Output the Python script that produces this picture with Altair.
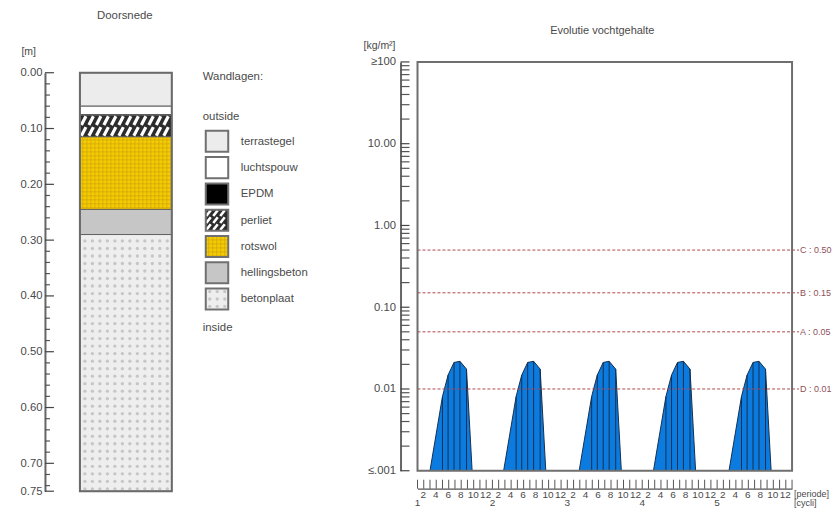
import altair as alt
import pandas as pd
import numpy as np

FONT = "Liberation Sans"
TXT = "#4a4a4a"
AXC = "#666666"

# ---- wall build-up
layer_names = ["terrastegel", "luchtspouw", "EPDM", "perliet", "rotswol", "hellingsbeton", "betonplaat"]
layer_top = [0.0, 0.06, 0.075, 0.076, 0.115, 0.245, 0.29]
layer_bottom = [0.06, 0.075, 0.076, 0.115, 0.245, 0.29, 0.75]
layer_fill = ["#ececec", "#ffffff", "#000000", "#2c2c2c", "#f0cf00", "#c6c6c6", "#eeeeee"]
depth_ticks = [0.0, 0.1, 0.2, 0.3, 0.4, 0.5, 0.6, 0.7, 0.75]
depth_minor = [round(i * 0.02, 2) for i in range(38) if i % 5 != 0]

# ---- moisture evolution
hump_months = [2, 4, 4.9, 5.85, 6.8, 7.85, 8.75]
hump_values = [0.001, 0.0081, 0.0148, 0.0211, 0.0218, 0.0175, 0.001]
cycle_start = [0, 11.8, 23.9, 35.8, 47.9]
limit_names = ["C : 0.50", "B : 0.15", "A : 0.05", "D : 0.01"]
limit_values = [0.5, 0.15, 0.05, 0.01]
moist_ticks = [0.001, 0.01, 0.1, 1, 10, 100]
moist_minor = [m * d for d in [0.001, 0.01, 0.1, 1, 10] for m in range(2, 10)]

HEIGHT_L = 484
HEIGHT_R = 481
COL_X0, COL_X1 = 35, 127


def txt(df, size=11.4, color=TXT, align="left", **enc):
    return alt.Chart(df).mark_text(font=FONT, fontSize=size, color=color, align=align, baseline="middle").encode(text="t:N", **enc)


# ================= left: section
DY = alt.Y("y:Q", title=None,
           scale=alt.Scale(domain=[0, 0.75], range=[64.5, 483.5], nice=False, zero=False),
           axis=alt.Axis(values=depth_ticks, format=".2f", ticks=False, grid=False, domainColor=AXC, domainWidth=2,
                         labelFont=FONT, labelFontSize=11.3, labelColor=TXT, labelPadding=3, title=None,
                         labelOverlap=False))
DY2 = alt.Y2("y2:Q")
DX_S = alt.Scale(domain=[0, 155], range=[0, 155], nice=False, zero=False)
DX = alt.X("x:Q", scale=DX_S, axis=None)
DX2 = alt.X2("x2:Q")

rects = pd.DataFrame({"x": COL_X0, "x2": COL_X1, "y": layer_top, "y2": layer_bottom, "f": layer_fill})
rect_l = alt.Chart(rects).mark_rect(stroke="#5f5f5f", strokeWidth=1).encode(
    x=DX, x2=DX2, y=DY, y2=DY2, fill=alt.Fill("f:N", scale=None))

PX = 0.75 / 419.0


def hatch(x0, x1, y0, y1, rows, pitch):
    out = []
    h = (y1 - y0) / rows
    for r in range(rows):
        for x in np.arange(x0 + 1.5, x1 - 5, pitch):
            out.append({"x": float(x), "x2": float(x) + 4.5, "y": y0 + (r + 1) * h - 0.002, "y2": y0 + r * h + 0.002})
    return pd.DataFrame(out)


per = hatch(COL_X0, COL_X1, 0.076, 0.115, 2, 7.5)
hatch_l = alt.Chart(per).mark_rule(color="#ffffff", strokeWidth=3.2).encode(x=DX, x2=DX2, y=DY, y2=DY2)

gx = [float(v) for v in np.arange(COL_X0 + 3, COL_X1, 4)]
gy = [float(v) for v in np.arange(0.115 + 3 * PX, 0.245, 4 * PX)]
gv = pd.DataFrame({"x": gx, "y": 0.115, "y2": 0.245})
gh = pd.DataFrame({"y": gy, "x": COL_X0, "x2": COL_X1})
gridv_l = alt.Chart(gv).mark_rule(color="#d8a010", strokeWidth=1, opacity=0.75).encode(x=DX, y=DY, y2=DY2)
gridh_l = alt.Chart(gh).mark_rule(color="#d8a010", strokeWidth=1, opacity=0.75).encode(x=DX, x2=DX2, y=DY)

dots = pd.DataFrame([{"x": float(x), "y": float(y)}
                     for x in np.arange(COL_X0 + 5, COL_X1 + 1, 7.5)
                     for y in np.arange(0.3015, 0.749, 7.52 * PX)])
dots_l = alt.Chart(dots).mark_circle(size=11, color="#c6c6c6", opacity=1).encode(x=DX, y=DY)

frame_l = alt.Chart(pd.DataFrame({"x": [COL_X0], "x2": [COL_X1], "y": [0.0], "y2": [0.75]})).mark_rect(
    fill=None, stroke="#6a6a6a", strokeWidth=2).encode(x=DX, x2=DX2, y=DY, y2=DY2)

maj_l = alt.Chart(pd.DataFrame({"y": depth_ticks})).mark_rule(color="#444444", strokeWidth=1.2).encode(
    x=alt.value(0), x2=alt.value(9), y=DY)
min_l = alt.Chart(pd.DataFrame({"y": depth_minor})).mark_rule(color="#555555", strokeWidth=1.2).encode(
    x=alt.value(0), x2=alt.value(5), y=DY)
t1 = txt(pd.DataFrame({"t": ["Doorsnede"]}), align="center", size=11.4, x=alt.value(80), y=alt.value(8))
t2 = txt(pd.DataFrame({"t": ["[m]"]}), align="right", size=10.5, x=alt.value(-9), y=alt.value(44))

left = alt.layer(rect_l, hatch_l, gridv_l, gridh_l, dots_l, frame_l, maj_l, min_l, t1, t2).properties(
    width=155, height=HEIGHT_L)

# ================= legend
SW0, SW1 = 6, 28.5
LX = alt.X("x:Q", scale=alt.Scale(domain=[0, 200], range=[0, 200], nice=False, zero=False), axis=None)
LY = alt.Y("y:Q", title=None, scale=alt.Scale(domain=[-3, 9], range=[43.8, 359.4], nice=False, zero=False), axis=None)
LX2, LY2 = alt.X2("x2:Q"), alt.Y2("y2:Q")

swatch = pd.DataFrame({"x": SW0, "x2": SW1, "y": list(range(7)), "y2": [i + 0.8 for i in range(7)], "f": layer_fill})
sw_rect = alt.Chart(swatch).mark_rect().encode(x=LX, x2=LX2, y=LY, y2=LY2, fill=alt.Fill("f:N", scale=None))

sw_hatch = []
for r in [0, 1, 2]:
    for x in np.arange(SW0 + 0.5, SW1 - 4, 7):
        sw_hatch.append({"x": float(x), "x2": float(x) + 4.5, "y": 3 + r * 0.267 + 0.24, "y2": 3 + r * 0.267 + 0.02})
sw_h = alt.Chart(pd.DataFrame(sw_hatch)).mark_rule(color="#ffffff", strokeWidth=2.6).encode(x=LX, x2=LX2, y=LY, y2=LY2)
sw_gv = alt.Chart(pd.DataFrame({"x": [float(v) for v in np.arange(SW0 + 3, SW1, 4)], "y": 4.0, "y2": 4.8})).mark_rule(
    color="#d8a010", opacity=0.75).encode(x=LX, y=LY, y2=LY2)
sw_gh = alt.Chart(pd.DataFrame({"y": [4 + k * 0.152 for k in range(1, 6)], "x": SW0, "x2": SW1})).mark_rule(
    color="#d8a010", opacity=0.75).encode(x=LX, x2=LX2, y=LY)
sw_d = alt.Chart(pd.DataFrame([{"x": SW0 + 4 + 7.5 * i, "y": 6.12 + 0.28 * j} for i in range(3) for j in range(3)])).mark_circle(
    size=11, color="#c6c6c6", opacity=1).encode(x=LX, y=LY)
sw_frame = alt.Chart(swatch).mark_rect(fill=None, stroke="#707070", strokeWidth=2).encode(x=LX, x2=LX2, y=LY, y2=LY2)

leg_txt = txt(pd.DataFrame({"t": layer_names, "x": 41, "y": [i + 0.42 for i in range(7)]}), x=LX, y=LY)
head_txt = txt(pd.DataFrame({"t": ["Wandlagen:", "outside", "inside"], "x": 3, "y": [-2.04, -0.52, 7.52]}), x=LX, y=LY)

legend_p = alt.layer(sw_rect, sw_h, sw_gv, sw_gh, sw_d, sw_frame, leg_txt, head_txt).properties(width=200.7, height=HEIGHT_L)

# ================= right: moisture
MX = alt.X("x:Q", title=None,
           scale=alt.Scale(domain=[0, 60], range=[17, 392], nice=False, zero=False),
           axis=alt.Axis(values=list(range(1, 60, 2)), labelExpr="datum.value % 12 + 1", ticks=False, grid=False,
                         domainColor="#555555", domainWidth=1.2, labelFont=FONT, labelFontSize=10, labelColor=TXT,
                         labelPadding=1, labelOffset=-1, labelOverlap=False, labelFlush=False, title=None))
LABELS = "datum.value >= 100 ? '≥100' : datum.value <= 0.001 ? '≤.001' : format(datum.value, '.2f')"
M_SCALE = alt.Scale(type="log", domain=[0.001, 100], range=[463, 53.7], nice=False)
M_AXIS = alt.Axis(values=moist_ticks, labelExpr=LABELS, ticks=False, grid=False, domainColor=AXC, domainWidth=2,
                  labelFont=FONT, labelFontSize=11.3, labelColor=TXT, labelPadding=5, labelOverlap=False, title=None)
MY = alt.Y("y:Q", title=None, scale=M_SCALE, axis=M_AXIS)

rows = []
for c, s in enumerate(cycle_start):
    for m, v in zip(hump_months, hump_values):
        rows.append({"x": s + m, "y": v, "c": c, "base": 0.001})
hump = pd.DataFrame(rows)
area = alt.Chart(hump).mark_area(color="#0b7be0", opacity=1, line=alt.LineConfig(color="#15304f", strokeWidth=1)).encode(
    x=MX, y=alt.Y("y:Q", title=None, scale=M_SCALE, axis=M_AXIS, stack=None), y2=alt.Y2("base:Q"), detail="c:N")
inner = hump[(hump["y"] > 0.001)]
bars = alt.Chart(inner).mark_rule(color="#15304f", strokeWidth=1).encode(x=MX, y=MY, y2=alt.Y2("base:Q"))

lim = pd.DataFrame({"y": limit_values, "t": limit_names})
limit_r = alt.Chart(lim).mark_rule(color="#b0474c", strokeWidth=1, strokeDash=[3, 2]).encode(
    x=alt.value(17), x2=alt.value(399), y=MY)
limit_t = txt(lim, size=9, color="#8f5058", x=alt.value(400), y=MY)

frame_r = alt.Chart(pd.DataFrame({"x": [0], "x2": [60], "y": [0.001], "y2": [100]})).mark_rect(
    fill=None, stroke="#6f6f6f", strokeWidth=2).encode(x=MX, x2=alt.X2("x2:Q"), y=MY, y2=alt.Y2("y2:Q"))
maj_r = alt.Chart(pd.DataFrame({"y": moist_ticks})).mark_rule(color="#444444", strokeWidth=1.2).encode(
    x=alt.value(0), x2=alt.value(9), y=MY)
min_r = alt.Chart(pd.DataFrame({"y": moist_minor})).mark_rule(color="#555555", strokeWidth=1.2).encode(
    x=alt.value(0), x2=alt.value(9), y=MY)
xt = alt.Chart(pd.DataFrame({"x": list(range(61))})).mark_rule(color="#555555", strokeWidth=1).encode(
    x=MX, y=alt.value(472), y2=alt.value(481))
cyc = txt(pd.DataFrame({"x": [0, 12, 24, 36, 48], "t": ["1", "2", "3", "4", "5"]}), size=10, align="center",
          x=MX, y=alt.value(495))
t3 = txt(pd.DataFrame({"t": ["Evolutie vochtgehalte"]}), size=11, align="center", x=alt.value(202), y=alt.value(23))
t4 = txt(pd.DataFrame({"t": ["[kg/m²]"]}), size=10.5, align="right", x=alt.value(-5), y=alt.value(38))
t5 = txt(pd.DataFrame({"t": ["[periode]"]}), size=9, x=alt.value(394), y=alt.value(486))
t6 = txt(pd.DataFrame({"t": ["[cycli]"]}), size=9, x=alt.value(394), y=alt.value(495))

right = alt.layer(area, bars, limit_r, limit_t, frame_r, maj_r, min_r, xt, cyc, t3, t4, t5, t6).properties(
    width=392, height=HEIGHT_R)

chart = alt.hconcat(left, legend_p, right, spacing=0, bounds="flush").properties(
    padding={"left": 12, "top": 0, "right": 0, "bottom": 0}, background="white"
).configure_view(stroke=None)

chart.save("out.html", embed_options={"renderer": "svg", "actions": False})
